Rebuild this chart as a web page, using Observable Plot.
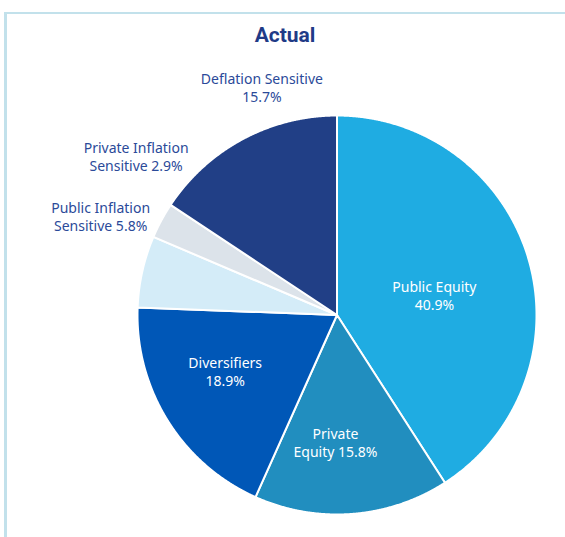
<!DOCTYPE html>
<html>
<head>
<meta charset="utf-8">
<script src="https://cdn.jsdelivr.net/npm/d3@7"></script>
<script src="https://cdn.jsdelivr.net/npm/@observablehq/plot@0.6"></script>
<style>
  html, body { margin: 0; padding: 0; background: #fff; }
  #wrap { position: relative; width: 565px; height: 537px; overflow: hidden; font-family: "Noto Sans", Roboto, sans-serif; }
  #frameTop { position: absolute; left: 4px; top: 12px; right: 0; height: 2px; background: #C2E1EB; }
  #frameLeft { position: absolute; left: 4px; top: 12px; bottom: 0; width: 3px; background: #C2E1EB; }
  #title { position: absolute; left: 5px; width: 560px; top: 23px; line-height: 24px; text-align: center;
           font-family: Roboto, sans-serif; font-size: 21px; font-weight: 700; color: #1F3B87; }
  #chart { position: absolute; left: 0; top: 56px; }
</style>
</head>
<body>
<div id="wrap">
  <div id="frameTop"></div>
  <div id="frameLeft"></div>
  <div id="title">Actual</div>
  <div id="chart"></div>
</div>
<script>
// ---- data ----
const categories = ["Public Equity", "Private Equity", "Diversifiers", "Public Inflation Sensitive", "Private Inflation Sensitive", "Deflation Sensitive"];
const shares = [40.9, 15.8, 18.9, 5.8, 2.9, 15.7];
const labelPrefixes = ["Public Equity\n", "Private\nEquity ", "Diversifiers\n", "Public Inflation\nSensitive ", "Private Inflation\nSensitive ", "Deflation Sensitive\n"];
const labelPlacement = ["inside", "inside", "inside", "outside", "outside", "outside"];
const colors = ["#1FACE2", "#218EBF", "#0057B7", "#D4ECF8", "#DCE3EA", "#213F86"];

// ---- geometry ----
const W = 565, H = 481;
const Rpx = 199.5;
const fontSize = 14, lineH = 18;
const fontFamily = "'Noto Sans', Roboto, sans-serif";
const arcs = d3.pie().sort(null).value(d => d)(shares);

const polyPoints = [];
arcs.forEach((a, i) => {
  const cat = categories[i];
  polyPoints.push({cat, x: 0, y: 0});
  const n = Math.max(2, Math.ceil((a.endAngle - a.startAngle) / 0.004));
  for (let k = 0; k <= n; k++) {
    const t = a.startAngle + (a.endAngle - a.startAngle) * k / n;
    polyPoints.push({cat, x: Math.sin(t), y: Math.cos(t)});
  }
  polyPoints.push({cat, x: 0, y: 0});
});

const ctx = document.createElement("canvas").getContext("2d");
ctx.font = `${fontSize}px 'Noto Sans'`;

const labels = arcs.map((a, i) => {
  const text = labelPrefixes[i] + d3.format(".1f")(shares[i]) + "%";
  const mid = (a.startAngle + a.endAngle) / 2;
  let x, y;
  if (labelPlacement[i] === "inside") {
    const half = (a.endAngle - a.startAngle) / 2;
    const d = (2 / 3) * Math.sin(half) / half;
    const th = mid + 5 * Math.PI / 180;
    x = d * Math.sin(th); y = d * Math.cos(th);
  } else {
    const lines = text.split("\n");
    const w = d3.max(lines, l => ctx.measureText(l).width);
    const h = lines.length * lineH;
    const th = mid + 10 * Math.PI / 180;
    const dpx = Rpx + 4 + Math.abs(Math.sin(th)) * w / 2 + Math.abs(Math.cos(th)) * h / 2;
    x = dpx / Rpx * Math.sin(th); y = dpx / Rpx * Math.cos(th);
  }
  return {cat: categories[i], text, x, y, placement: labelPlacement[i]};
});

const cx = 336.5, cy = 258.5;
const plot = Plot.plot({
  width: W,
  height: H,
  marginLeft: cx - Rpx,
  marginRight: W - (cx + Rpx),
  marginTop: cy - Rpx,
  marginBottom: H - (cy + Rpx),
  x: {domain: [-1, 1], axis: null},
  y: {domain: [-1, 1], axis: null},
  color: {domain: categories, range: colors},
  style: {fontFamily, fontSize: fontSize + "px", background: "transparent", overflow: "visible"},
  marks: [
    Plot.line(polyPoints, {x: "x", y: "y", z: "cat", fill: "cat", stroke: "white", strokeWidth: 2, strokeLinejoin: "round", curve: "linear"}),
    Plot.text(labels.filter(d => d.placement === "inside"), {x: "x", y: "y", text: "text", fill: "white", fontSize, lineHeight: lineH / fontSize, textAnchor: "middle"}),
    Plot.text(labels.filter(d => d.placement === "outside"), {x: "x", y: "y", text: "text", fill: "#2B4A99", fontSize, lineHeight: lineH / fontSize, textAnchor: "middle"})
  ]
});
document.getElementById("chart").appendChild(plot);
</script>
</body>
</html>
